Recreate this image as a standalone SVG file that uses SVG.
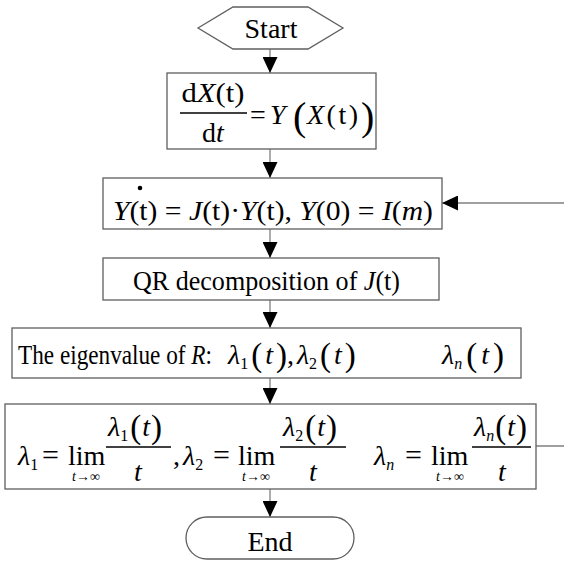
<svg xmlns="http://www.w3.org/2000/svg" width="564" height="561" viewBox="0 0 564 561" font-family="'Liberation Serif','Times New Roman',serif">
<style>
.box{fill:#fff;stroke:#5f5f5f;stroke-width:1.3}
.ln{fill:none;stroke:#808080;stroke-width:1.3}
.bar{stroke:#000;stroke-width:1.3}
text{font-family:"Liberation Serif","Times New Roman",serif;fill:#000}
.t{font-size:28px}
.m{font-size:28px}
.i{font-style:italic}
.sub{font-size:16px}
.lim{font-size:14px}
.p{font-size:33px}
</style>
<defs>
<marker id="ah" viewBox="0 0 16 15" refX="16" refY="7.5" markerWidth="16" markerHeight="15" markerUnits="userSpaceOnUse" orient="auto">
<path d="M0,0 L16,7.5 L0,15 z" fill="#000"/>
</marker>
</defs>
<g id="connectors">
<line class="ln" x1="270" y1="49" x2="270" y2="73" marker-end="url(#ah)"/>
<line class="ln" x1="270" y1="149" x2="270" y2="178" marker-end="url(#ah)"/>
<line class="ln" x1="270" y1="229" x2="270" y2="258" marker-end="url(#ah)"/>
<line class="ln" x1="270" y1="300" x2="270" y2="328" marker-end="url(#ah)"/>
<line class="ln" x1="270" y1="378" x2="270" y2="404" marker-end="url(#ah)"/>
<line class="ln" x1="270" y1="489" x2="270" y2="517" marker-end="url(#ah)"/>
<path class="ln" d="M536,446 H570 V203 H442" marker-end="url(#ah)"/>
</g>
<g id="start">
<polygon class="box" points="198,28 233,7 308,7 343,28 308,49 233,49"/>
<text class="t" x="271" y="38" text-anchor="middle">Start</text>
</g>
<g id="ode">
<rect class="box" x="167" y="73" width="209" height="76"/>
<text class="m" x="213" y="102" text-anchor="middle" textLength="63" lengthAdjust="spacingAndGlyphs">d<tspan class="i">X</tspan>(t)</text>
<line class="bar" x1="180" y1="113" x2="247" y2="113"/>
<text class="m" x="213" y="142" text-anchor="middle">d<tspan class="i">t</tspan></text>
<text class="m" x="250" y="124">=</text>
<text class="m i" x="270" y="124">Y</text>
<text x="293" y="130" style="font-size:40px">(</text>
<text class="m" x="307" y="124" textLength="51" lengthAdjust="spacing"><tspan class="i">X</tspan>(t)</text>
<text x="361" y="130" style="font-size:40px">)</text>
</g>
<g id="variational">
<rect class="box" x="103" y="178" width="339" height="51"/>
<text class="m" x="113" y="220" textLength="320" lengthAdjust="spacingAndGlyphs"><tspan class="i">Y</tspan>(t) = <tspan class="i">J</tspan>(t)·<tspan class="i">Y</tspan>(t), <tspan class="i">Y</tspan>(0) = <tspan class="i">I</tspan>(<tspan class="i">m</tspan>)</text>
<circle cx="140" cy="188" r="2.3" fill="#000"/>
</g>
<g id="qr">
<rect class="box" x="103" y="258" width="336" height="42"/>
<text class="t" x="133" y="290" textLength="267" lengthAdjust="spacingAndGlyphs">QR decomposition of <tspan class="i">J</tspan>(t)</text>
</g>
<g id="eigen">
<rect class="box" x="12" y="328" width="509" height="50"/>
<text class="t" x="18" y="364" textLength="194" lengthAdjust="spacingAndGlyphs">The eigenvalue of <tspan class="i">R</tspan>:</text>
<text class="m" x="228" y="364"><tspan class="i">λ</tspan><tspan class="sub" dy="5">1</tspan><tspan class="p" dy="-3" dx="3">(</tspan><tspan class="i" dy="-2" dx="3">t</tspan><tspan class="p" dx="3" dy="2">)</tspan><tspan dy="-2">,</tspan><tspan class="i" dx="3">λ</tspan><tspan class="sub" dy="5">2</tspan><tspan class="p" dy="-3" dx="3">(</tspan><tspan class="i" dy="-2" dx="3">t</tspan><tspan class="p" dx="3" dy="2">)</tspan></text>
<text class="m" x="442" y="364"><tspan class="i">λ</tspan><tspan class="sub i" dy="5">n</tspan><tspan class="p" dy="-3" dx="4">(</tspan><tspan class="i" dy="-2" dx="4">t</tspan><tspan class="p" dx="4" dy="2">)</tspan></text>
</g>
<g id="lyapunov">
<rect class="box" x="5" y="404" width="531" height="85"/>
<text class="m" x="18" y="465"><tspan class="i">λ</tspan><tspan class="sub" dy="5">1</tspan></text>
<text class="m" x="42" y="465" style="font-size:30px">=</text>
<text class="m" x="68" y="465">lim</text>
<text class="lim" x="86" y="481" text-anchor="middle"><tspan class="i">t</tspan>→∞</text>
<line class="bar" x1="106" y1="447" x2="171" y2="447"/>
<text class="m" x="108" y="436"><tspan class="i">λ</tspan><tspan class="sub" dy="5">1</tspan><tspan class="p" dy="-3" dx="2">(</tspan><tspan class="i" dy="-2" dx="1">t</tspan><tspan class="p" dx="1" dy="2">)</tspan></text>
<text class="m i" x="138" y="481" text-anchor="middle">t</text>
<text class="m" x="173" y="465">,</text>
<text class="m" x="183" y="465"><tspan class="i">λ</tspan><tspan class="sub" dy="5">2</tspan></text>
<text class="m" x="213" y="465" style="font-size:30px">=</text>
<text class="m" x="238" y="465">lim</text>
<text class="lim" x="256" y="481" text-anchor="middle"><tspan class="i">t</tspan>→∞</text>
<line class="bar" x1="280" y1="447" x2="346" y2="447"/>
<text class="m" x="283" y="436"><tspan class="i">λ</tspan><tspan class="sub" dy="5">2</tspan><tspan class="p" dy="-3" dx="2">(</tspan><tspan class="i" dy="-2" dx="1">t</tspan><tspan class="p" dx="1" dy="2">)</tspan></text>
<text class="m i" x="313" y="481" text-anchor="middle">t</text>
<text class="m" x="374" y="465"><tspan class="i">λ</tspan><tspan class="sub i" dy="5">n</tspan></text>
<text class="m" x="405" y="465" style="font-size:30px">=</text>
<text class="m" x="431" y="465">lim</text>
<text class="lim" x="450" y="481" text-anchor="middle"><tspan class="i">t</tspan>→∞</text>
<line class="bar" x1="472" y1="447" x2="531" y2="447"/>
<text class="m" x="474" y="436"><tspan class="i">λ</tspan><tspan class="sub i" dy="5">n</tspan><tspan class="p" dy="-3" dx="1">(</tspan><tspan class="i" dy="-2" dx="1">t</tspan><tspan class="p" dx="1" dy="2">)</tspan></text>
<text class="m i" x="502" y="481" text-anchor="middle">t</text>
</g>
<g id="end">
<rect class="box" x="186" y="517" width="168" height="42" rx="21" ry="21"/>
<text class="t" x="270" y="551" text-anchor="middle">End</text>
</g>
</svg>
